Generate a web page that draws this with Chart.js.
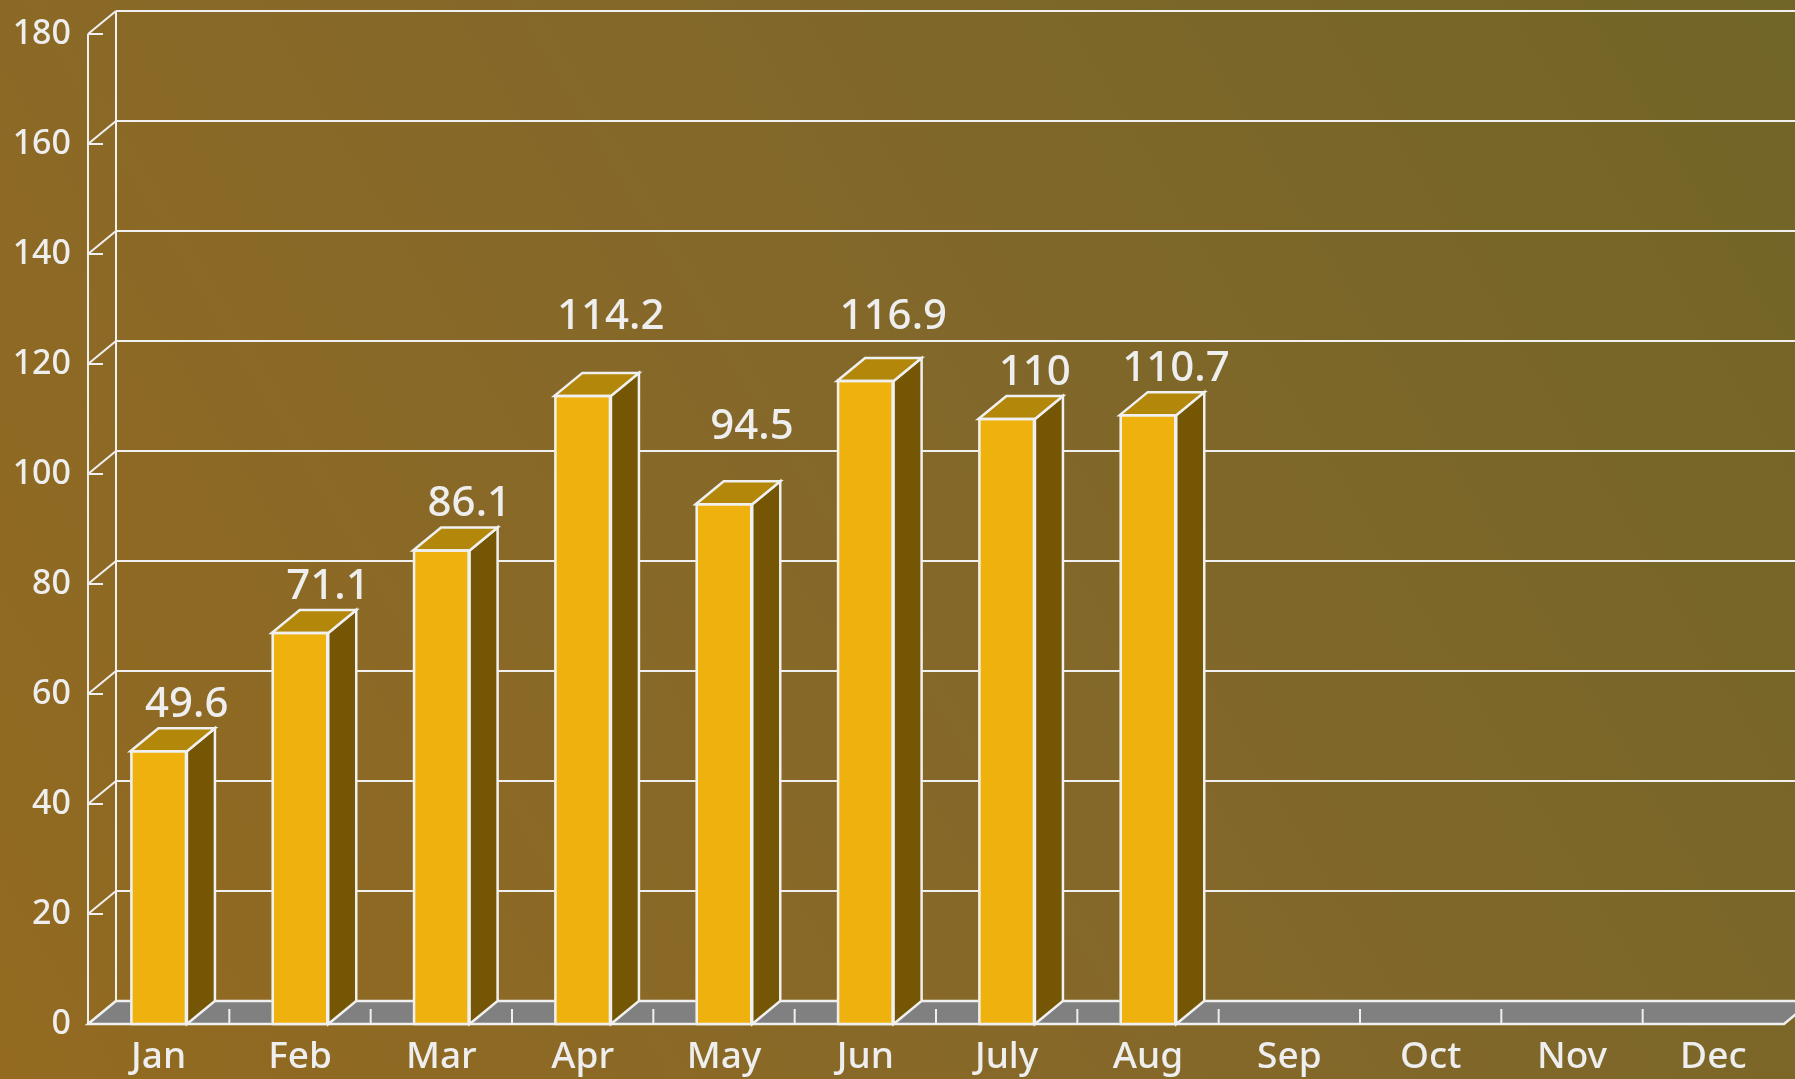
<!DOCTYPE html>
<html>
<head>
<meta charset="utf-8">
<script src="https://cdn.jsdelivr.net/npm/chart.js@4/dist/chart.umd.min.js"></script>
<style>
  html, body { margin: 0; padding: 0; background: #806824; }
  #wrap { width: 1795px; height: 1079px; }
</style>
</head>
<body>
<div id="wrap"><canvas id="chart"></canvas></div>
<script>
// monthly values, Sep-Dec have no data yet
const months = ['Jan', 'Feb', 'Mar', 'Apr', 'May', 'Jun', 'July', 'Aug', 'Sep', 'Oct', 'Nov', 'Dec'];
const values = [49.6, 71.1, 86.1, 114.2, 94.5, 116.9, 110, 110.7, null, null, null, null];
const yMin = 0;
const yMax = 180;
const yStep = 20;

// 3d look
const DX = 28;
const DY = 23;
const LINE = '#f0f0f0';
const FRONT = '#eeb10d';
const TOP = '#b3870a';
const SIDE = '#755605';
const FLOOR = '#808080';
const TEXT = '#eeeeee';

Chart.defaults.font.family = '"Noto Sans", sans-serif';
Chart.defaults.font.weight = '500';

function gridValues() {
    const out = [];
    for (let v = yMin; v <= yMax; v += yStep) out.push(v);
    return out;
}

const box3d = {
    id: 'box3d',
    beforeDraw(chart) {
        const ctx = chart.ctx;
        const g = ctx.createLinearGradient(0, chart.height, chart.width, 0);
        g.addColorStop(0, '#936a20');
        g.addColorStop(0.5, '#84682a');
        g.addColorStop(1, '#716527');
        ctx.save();
        ctx.fillStyle = g;
        ctx.fillRect(0, 0, chart.width, chart.height);
        ctx.restore();
    },
    beforeDatasetsDraw(chart) {
        const ctx = chart.ctx;
        const area = chart.chartArea;
        const y = chart.scales.y;
        const farRight = chart.width + 5;

        ctx.save();
        ctx.strokeStyle = LINE;
        ctx.lineWidth = 2;
        ctx.lineCap = 'butt';

        // back wall grid + side wall diagonals
        gridValues().forEach(v => {
            const py = y.getPixelForValue(v);
            ctx.beginPath();
            ctx.moveTo(area.left + DX, py - DY);
            ctx.lineTo(farRight, py - DY);
            ctx.stroke();
            ctx.beginPath();
            ctx.moveTo(area.left, py);
            ctx.lineTo(area.left + DX, py - DY);
            ctx.stroke();
            ctx.beginPath();
            ctx.moveTo(area.left, py);
            ctx.lineTo(area.left + 15, py);
            ctx.stroke();
        });

        // wall verticals
        ctx.beginPath();
        ctx.moveTo(area.left + DX, area.top - DY);
        ctx.lineTo(area.left + DX, area.bottom - DY);
        ctx.stroke();

        // floor
        ctx.lineWidth = 2.5;
        ctx.beginPath();
        ctx.moveTo(area.left, area.bottom);
        ctx.lineTo(area.right, area.bottom);
        ctx.lineTo(area.right + DX, area.bottom - DY);
        ctx.lineTo(area.left + DX, area.bottom - DY);
        ctx.closePath();
        ctx.fillStyle = FLOOR;
        ctx.fill();
        ctx.stroke();
        ctx.lineWidth = 2;

        // floor ticks on category boundaries
        const step = (area.right - area.left) / months.length;
        for (let i = 1; i < months.length; i++) {
            const px = area.left + step * i;
            ctx.beginPath();
            ctx.moveTo(px, area.bottom);
            ctx.lineTo(px, area.bottom - 15);
            ctx.stroke();
        }

        // front axis line
        ctx.beginPath();
        ctx.moveTo(area.left, area.top);
        ctx.lineTo(area.left, area.bottom);
        ctx.stroke();
        ctx.restore();
    },
    afterDatasetsDraw(chart) {
        const ctx = chart.ctx;
        const meta = chart.getDatasetMeta(0);
        const y = chart.scales.y;
        const gridYs = gridValues().map(v => y.getPixelForValue(v) - DY);

        ctx.save();
        ctx.strokeStyle = LINE;
        ctx.lineWidth = 2.5;
        ctx.lineJoin = 'miter';

        meta.data.forEach((bar, i) => {
            if (values[i] === null) return;
            const p = bar.getProps(['x', 'y', 'base', 'width'], true);
            const l = p.x - p.width / 2;
            const r = p.x + p.width / 2;
            const t = p.y;
            const b = p.base;

            ctx.beginPath();
            ctx.moveTo(r, t);
            ctx.lineTo(r + DX, t - DY);
            ctx.lineTo(r + DX, b - DY);
            ctx.lineTo(r, b);
            ctx.closePath();
            ctx.fillStyle = SIDE;
            ctx.fill();
            ctx.stroke();

            ctx.beginPath();
            ctx.moveTo(l, t);
            ctx.lineTo(l + DX, t - DY);
            ctx.lineTo(r + DX, t - DY);
            ctx.lineTo(r, t);
            ctx.closePath();
            ctx.fillStyle = TOP;
            ctx.fill();
            ctx.stroke();

            ctx.beginPath();
            ctx.rect(l + 1, t, p.width - 2, b - t);
            ctx.stroke();
        });

        // value labels, pushed above a grid line if they would sit on it
        ctx.font = '500 42px "Noto Sans", sans-serif';
        ctx.fillStyle = TEXT;
        ctx.textAlign = 'center';
        ctx.textBaseline = 'alphabetic';
        const capH = 31;
        meta.data.forEach((bar, i) => {
            if (values[i] === null) return;
            const p = bar.getProps(['x', 'y'], true);
            let bottom = p.y - DY - 11;
            gridYs.forEach(gy => {
                if (gy > bottom - capH - 2 && gy < bottom + 3) bottom = gy - 12;
            });
            ctx.fillText(String(values[i]), p.x + DX, bottom);
        });
        ctx.restore();
    }
};

new Chart(document.getElementById('chart'), {
    type: 'bar',
    data: {
        labels: months,
        datasets: [{
            data: values,
            backgroundColor: FRONT,
            borderColor: LINE,
            borderWidth: 0,
            barPercentage: 0.4,
            categoryPercentage: 1.0
        }]
    },
    options: {
        responsive: true,
        maintainAspectRatio: false,
        animation: false,
        layout: {
            padding: { top: 34, right: 11, bottom: 0, left: 0 }
        },
        plugins: {
            legend: { display: false },
            tooltip: { enabled: false }
        },
        scales: {
            x: {
                grid: { display: false },
                border: { display: false },
                ticks: {
                    color: TEXT,
                    font: { size: 37 },
                    padding: 3,
                    maxRotation: 0,
                    autoSkip: false
                },
                afterFit(scale) { scale.height = 55; }
            },
            y: {
                min: yMin,
                max: yMax,
                grid: { display: false },
                border: { display: false },
                ticks: {
                    stepSize: yStep,
                    color: TEXT,
                    font: { size: 34 },
                    padding: 9
                },
                afterFit(scale) { scale.width = 88; }
            }
        }
    },
    plugins: [box3d]
});
</script>
</body>
</html>
